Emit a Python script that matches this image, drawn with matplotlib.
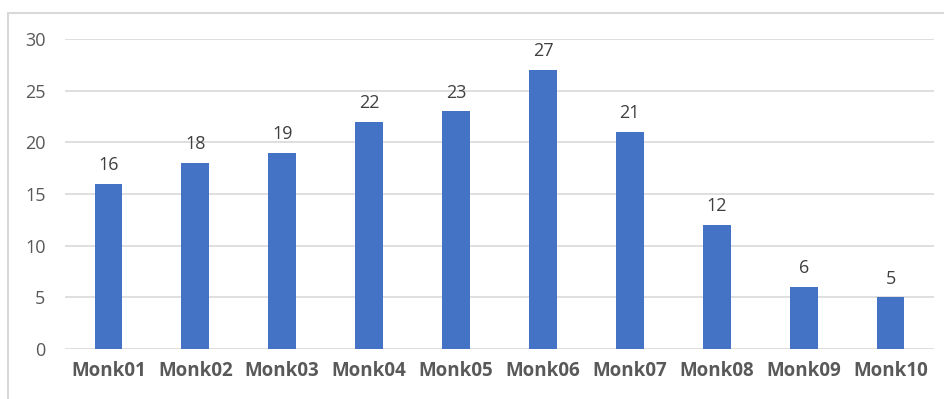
import matplotlib.pyplot as plt
from matplotlib.patches import Rectangle

monks = ['Monk01', 'Monk02', 'Monk03', 'Monk04', 'Monk05',
         'Monk06', 'Monk07', 'Monk08', 'Monk09', 'Monk10']
counts = [16, 18, 19, 22, 23, 27, 21, 12, 6, 5]
yticks = [0, 5, 10, 15, 20, 25, 30]

plt.rcParams['font.family'] = ['Open Sans', 'DejaVu Sans']

fig = plt.figure(figsize=(9.45, 3.99), dpi=100)
W, H = 945, 399

# chart frame (left and top edges only show)
fig.patches.append(Rectangle((8 / W, -0.05), 1.2, (H - 13) / H + 0.05,
                             transform=fig.transFigure, fill=False,
                             edgecolor='#d9d9d9', linewidth=1.5))

ax = fig.add_axes([65 / W, 1 - 349 / H, (934 - 65) / W, (349 - 39) / H])
x = range(len(monks))
bars = ax.bar(x, counts, width=0.32, color='#4472c4', zorder=3)

ax.set_xlim(-0.5, len(monks) - 0.5)
ax.set_ylim(0, 30)
ax.set_yticks(yticks)
ax.set_xticks(list(x))
ax.set_xticklabels(monks, fontweight='bold', fontsize=13.5)
ax.grid(axis='y', color='#d9d9d9', linewidth=1.2, zorder=0)
for s in ax.spines.values():
    s.set_visible(False)
ax.tick_params(length=0, colors='#595959')
ax.tick_params(axis='y', pad=14, labelsize=13)
ax.tick_params(axis='x', pad=9)

for b, v in zip(bars, counts):
    ax.annotate(str(v), (b.get_x() + b.get_width() / 2, v),
                xytext=(0, 7), textcoords='offset points',
                ha='center', va='bottom', fontsize=13, color='#404040')

fig.savefig('out.png', dpi=100)
